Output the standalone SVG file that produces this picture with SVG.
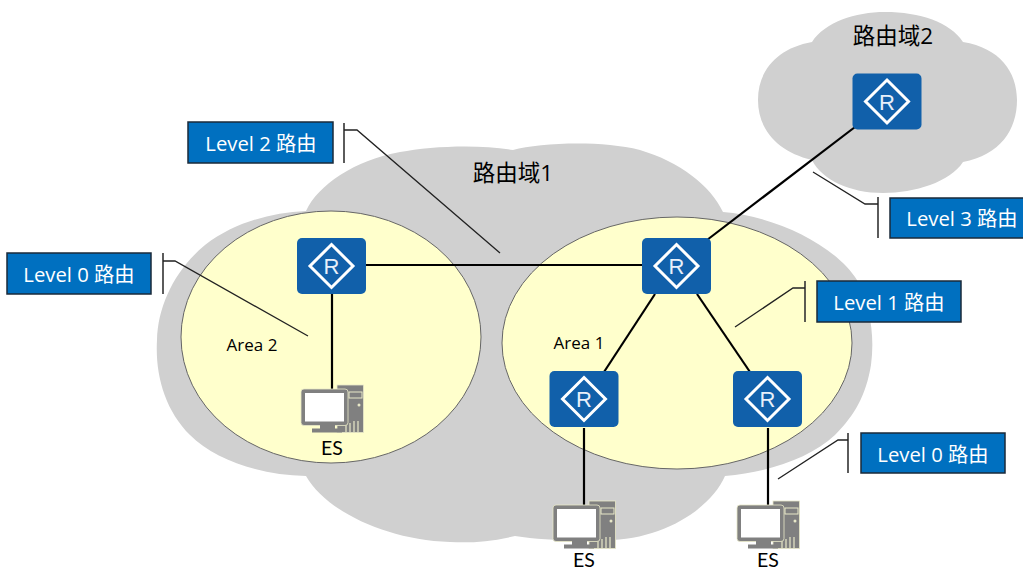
<svg xmlns="http://www.w3.org/2000/svg" width="1023" height="571" viewBox="0 0 1023 571">
<style>
.cloud{fill:#d0d0d0}
.area{fill:#ffffcc;stroke:#666;stroke-width:1}
.link{stroke:#000;stroke-width:2.2;fill:none}
.lead{stroke:#222;stroke-width:1.3;fill:none}
.brk{stroke:#333;stroke-width:1.6;fill:none}
.box{fill:#0070c0;stroke:#1a2a3a;stroke-width:1.5}
.t{font-family:"Open Sans","Noto Sans CJK SC",sans-serif}
.lb{fill:#fff;font-size:20.300px;text-anchor:middle}
.dk{fill:#000;text-anchor:middle}
.es{font-family:Lato,sans-serif;font-size:19.500px;fill:#000;text-anchor:middle}
.rbody{fill:#1160aa}
.rdia{fill:none;stroke:#fff;stroke-width:3}
.rr{fill:#e8f0fa;font-family:"Liberation Sans",sans-serif;font-size:22px;text-anchor:middle}
.pc{fill:#808080}
.pcl{fill:#808080;stroke:#e8e8c8;stroke-width:.8}
</style>
<defs>
<g id="router">
<rect class="rbody" x="-34.500" y="-28" width="69" height="56" rx="5"/>
<polygon class="rdia" points="0,-21.500 21.500,0 0,21.500 -21.500,0"/>
<text class="rr" x="0" y="8">R</text>
</g>
<g id="pc">
<rect class="pcl" x="5" y="-20" width="26.500" height="47.500"/>
<rect x="17" y="-13" width="13" height="6" fill="none" stroke="#e8e8c8" stroke-width="1"/>
<circle cx="27" cy="0" r="1.500" fill="#e8e8c8"/>
<path d="M14 27v-7M18 27v-9M22 27v-11M26 27v-11" stroke="#e8e8c8" stroke-width="1.200"/>
<rect x="-31" y="-16" width="47" height="36.500" rx="3" class="pcl"/>
<rect x="-27" y="-12" width="39" height="28.500" fill="#fff"/>
<rect x="-12" y="20" width="15" height="4" class="pc"/>
<rect x="-20" y="23.500" width="30" height="4" class="pc"/>
</g>
</defs>
<g id="domain1">
<path class="cloud" d="M306 211 C318 185 355 160 400 152 C430 146 480 144 513 150 C540 143 600 140 640 150 C680 162 710 185 723 212 C775 216 835 245 857 280 C870 305 875 335 871 365 C866 395 855 415 835 435 C810 458 770 472 725 476 C710 510 660 542 600 540 C570 541 540 540 515 536 C490 542 470 543 450 542 C385 540 325 510 306 476 C260 475 215 460 190 435 C165 410 155 375 157 340 C158 305 175 270 205 245 C235 222 270 213 306 211 Z"/>
<text class="t dk" x="513" y="181" font-size="22.500">路由域1</text>
</g>
<g id="domain2">
<path class="cloud" d="M812 42 C825 22 855 12 885 12 C920 12 950 22 963 42 C1000 48 1017 72 1017 100 C1017 130 1000 155 963 162 C950 182 915 193 883 193 C850 193 822 180 812 160 C778 152 758 130 758 100 C758 70 778 48 812 42 Z"/>
<text class="t dk" x="893" y="44" font-size="22.500">路由域2</text>
</g>
<g id="area2">
<ellipse class="area" cx="331" cy="337" rx="150" ry="126"/>
<text class="t dk" x="252" y="351" font-size="17">Area 2</text>
</g>
<g id="area1">
<ellipse class="area" cx="677" cy="343" rx="175" ry="126"/>
<text class="t dk" x="579" y="349" font-size="17">Area 1</text>
</g>
<g id="connectors">
<path class="link" d="M366 265H642"/>
<path class="link" d="M332 294V392"/>
<path class="link" d="M707 240L855 127"/>
<path class="link" d="M655 294L604 372"/>
<path class="link" d="M697 294L750 372"/>
<path class="link" d="M584 428V508"/>
<path class="link" d="M768 428V508"/>
<path class="brk" d="M344 123V163"/><path class="lead" d="M344 130H357L500 253"/>
<path class="brk" d="M163 253V294"/><path class="lead" d="M163 261H175L308 336"/>
<path class="brk" d="M878 197V238"/><path class="lead" d="M878 204H865L813 172"/>
<path class="brk" d="M805 281V322"/><path class="lead" d="M805 288H793L735 327"/>
<path class="brk" d="M848 433V473"/><path class="lead" d="M848 440H838L778 479"/>
</g>
<g id="label-l2"><rect class="box" x="188" y="122" width="145" height="41"/><text class="t lb" x="261" y="151">Level 2 路由</text></g>
<g id="label-l0a"><rect class="box" x="7" y="253" width="144" height="41"/><text class="t lb" x="79" y="282">Level 0 路由</text></g>
<g id="label-l3"><rect class="box" x="890" y="198" width="134" height="40"/><text class="t lb" x="962" y="226">Level 3 路由</text></g>
<g id="label-l1"><rect class="box" x="817" y="281" width="144" height="41"/><text class="t lb" x="889" y="310">Level 1 路由</text></g>
<g id="label-l0b"><rect class="box" x="861" y="433" width="144" height="40"/><text class="t lb" x="933" y="462">Level 0 路由</text></g>
<g id="router-d2"><use href="#router" x="887" y="101.500"/></g>
<g id="router-a2"><use href="#router" x="331.500" y="266"/></g>
<g id="router-core"><use href="#router" x="676.500" y="266"/></g>
<g id="router-l"><use href="#router" x="584" y="399"/></g>
<g id="router-r"><use href="#router" x="767.500" y="399"/></g>
<g id="es-a2"><use href="#pc" x="332" y="405"/><text class="es" x="332" y="455">ES</text></g>
<g id="es-l"><use href="#pc" x="584" y="521"/><text class="es" x="584" y="566.500">ES</text></g>
<g id="es-r"><use href="#pc" x="768" y="521"/><text class="es" x="768" y="566.500">ES</text></g>
</svg>
